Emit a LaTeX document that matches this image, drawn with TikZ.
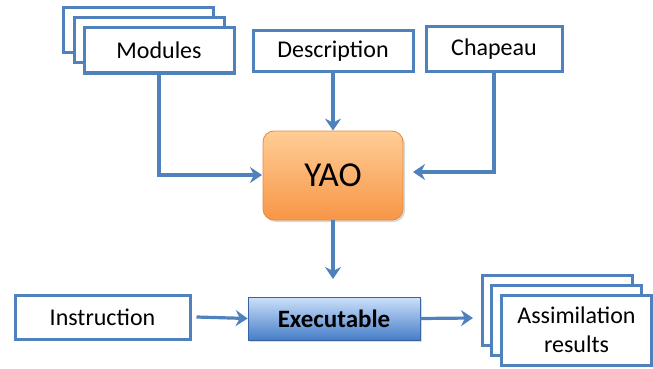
\documentclass[tikz,border=0pt]{standalone}
\usepackage{fontspec}
\setmainfont{Carlito}
\usetikzlibrary{arrows.meta,shadows}
\definecolor{lineblue}{RGB}{79,129,189}
\definecolor{orangetop}{RGB}{255,205,150}
\definecolor{orangebot}{RGB}{247,150,70}
\definecolor{orangeedge}{RGB}{228,140,60}
\definecolor{bluetop}{RGB}{205,225,250}
\definecolor{bluebot}{RGB}{70,125,200}
\tikzset{
  x=1pt, y=-1pt,
  wbox/.style={draw=lineblue, line width=3pt, fill=white, inner sep=0pt,
    font=\fontsize{24}{26}\selectfont, align=center},
  conn/.style={draw=lineblue, line width=3.2pt,
    -{Stealth[length=12pt,width=16pt,inset=4pt]}},
  yaobox/.style={rounded corners=11pt, draw=orangeedge, line width=0.8pt,
    top color=orangetop, bottom color=orangebot,
    drop shadow={shadow xshift=2pt,shadow yshift=-2pt,opacity=0.3},
    font=\fontsize{35}{38}\selectfont, inner sep=0pt},
  exebox/.style={draw=bluebot!80!black, line width=0.6pt,
    top color=bluetop, bottom color=bluebot,
    drop shadow={shadow xshift=2pt,shadow yshift=-2pt,opacity=0.3},
    font=\fontsize{25}{27}\selectfont\bfseries, inner sep=0pt}
}
\begin{document}
\begin{tikzpicture}
\useasboundingbox (0,0) rectangle (653,369);
% Modules stack
\node[wbox, minimum width=150pt, minimum height=45pt] (modC) at (138,30.5) {};
\node[wbox, minimum width=150pt, minimum height=45pt] (modB) at (149,40) {};
\node[wbox, minimum width=150pt, minimum height=45pt] (mod) at (159,50.5) {Modules};
% Description
\node[wbox, minimum width=160pt, minimum height=41pt] (desc) at (333,51.5) {Description};
% Chapeau
\node[wbox, minimum width=136pt, minimum height=45pt] (chap) at (494,49.5) {Chapeau};
% YAO
\node[yaobox, minimum width=140pt, minimum height=89pt] (yao) at (333,175.5) {YAO};
% Executable
\node[exebox, minimum width=172pt, minimum height=43pt] (exe) at (334,318.5) {Executable};
% Instruction
\node[wbox, minimum width=175pt, minimum height=44pt] (ins) at (102.5,317) {Instruction};
% Assimilation stack
\node[wbox, minimum width=150pt, minimum height=70pt] (asC) at (557,310) {};
\node[wbox, minimum width=150pt, minimum height=70pt] (asB) at (566.5,320) {};
\node[wbox, minimum width=150pt, minimum height=70pt] (as) at (576.5,330) {Assimilation\\[3pt]results};
% connectors
\coordinate (yaoL) at (262,175);
\coordinate (yaoR) at (413,172);
\coordinate (exeT) at (333,279);
\coordinate (asL) at (473,318);
\draw[conn] (mod.south) -- (mod.south |- yaoL) -- (yaoL);
\draw[conn] (desc.south) -- (desc.south |- yao.north);
\draw[conn] (chap.south) -- (chap.south |- yaoR) -- (yaoR);
\draw[conn] (yao.south) -- (exeT);
\draw[conn] ([xshift=5pt]ins.east) -- (exe.west);
\draw[conn] (exe.east) -- (asL);
\end{tikzpicture}
\end{document}
